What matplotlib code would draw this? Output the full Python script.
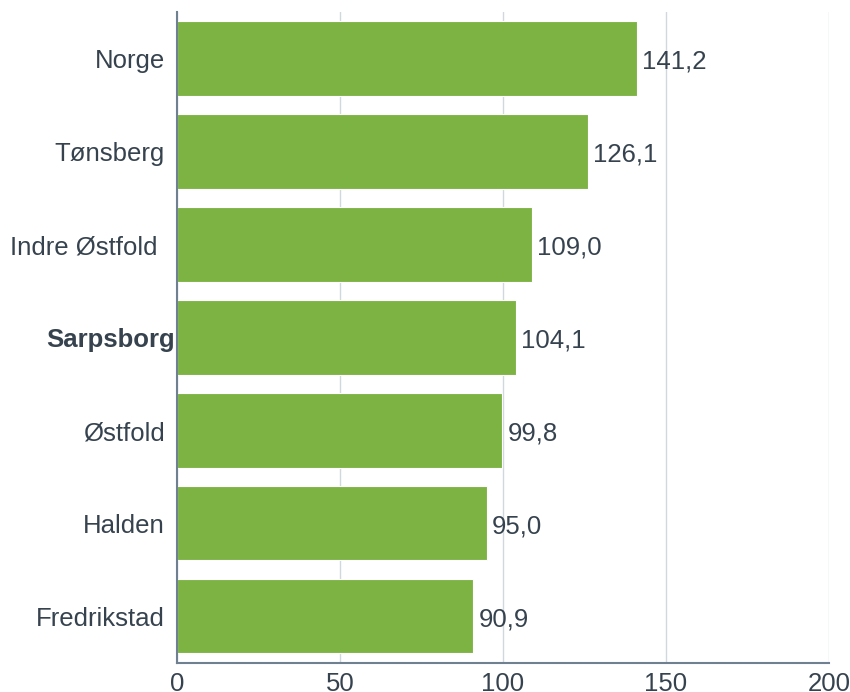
"""Horizontal bar chart: index values per municipality."""
import matplotlib.pyplot as plt

plt.rcParams['font.family'] = ['Liberation Sans', 'DejaVu Sans']

places = ["Norge", "Tønsberg", "Indre Østfold ", "Sarpsborg", "Østfold", "Halden", "Fredrikstad"]
values = [141.2, 126.1, 109.0, 104.1, 99.8, 95.0, 90.9]
bold = ["Sarpsborg"]
xticks = [0, 50, 100, 150, 200]

GREEN = "#7DB343"
TEXT = "#36434F"
SPINE = "#6F8191"
GRID = "#D0D7DD"

fig = plt.figure(figsize=(8.5, 6.92), dpi=100)
ax = fig.add_axes([0.2082, 0.0423, 0.767, 0.9404])

ypos = list(range(len(places)))
ax.barh(ypos, values, height=0.8, color=GREEN, edgecolor="white", linewidth=0.8, zorder=3)

for y, v in zip(ypos, values):
    ax.annotate(f"{v:.1f}".replace(".", ","), xy=(v, y), xytext=(5, -3),
                textcoords="offset pixels", ha="left", va="center",
                fontsize=18.5, color=TEXT)

for y, name in zip(ypos, places):
    is_bold = name.strip() in bold
    ax.annotate(name, xy=(0, y), xytext=(-2 if is_bold else -12, -3),
                textcoords="offset pixels", ha="right", va="center",
                fontsize=18.5, color=TEXT, fontweight="bold" if is_bold else "normal",
                annotation_clip=False)

ax.set_xlim(0, 200)
ax.set_ylim(len(places) - 0.5, -0.5)
ax.set_yticks([])
ax.set_xticks(xticks)
ax.set_xticklabels([str(t) for t in xticks], fontsize=18.5, color=TEXT)
ax.tick_params(axis="x", length=0, pad=6.5)
ax.grid(axis="x", color=GRID, linewidth=1, zorder=0)

for side in ["top", "right"]:
    ax.spines[side].set_visible(False)
for side in ["left", "bottom"]:
    ax.spines[side].set_color(SPINE)
    ax.spines[side].set_linewidth(1.5)
    ax.spines[side].set_zorder(4)

fig.savefig("out.png", dpi=100)
